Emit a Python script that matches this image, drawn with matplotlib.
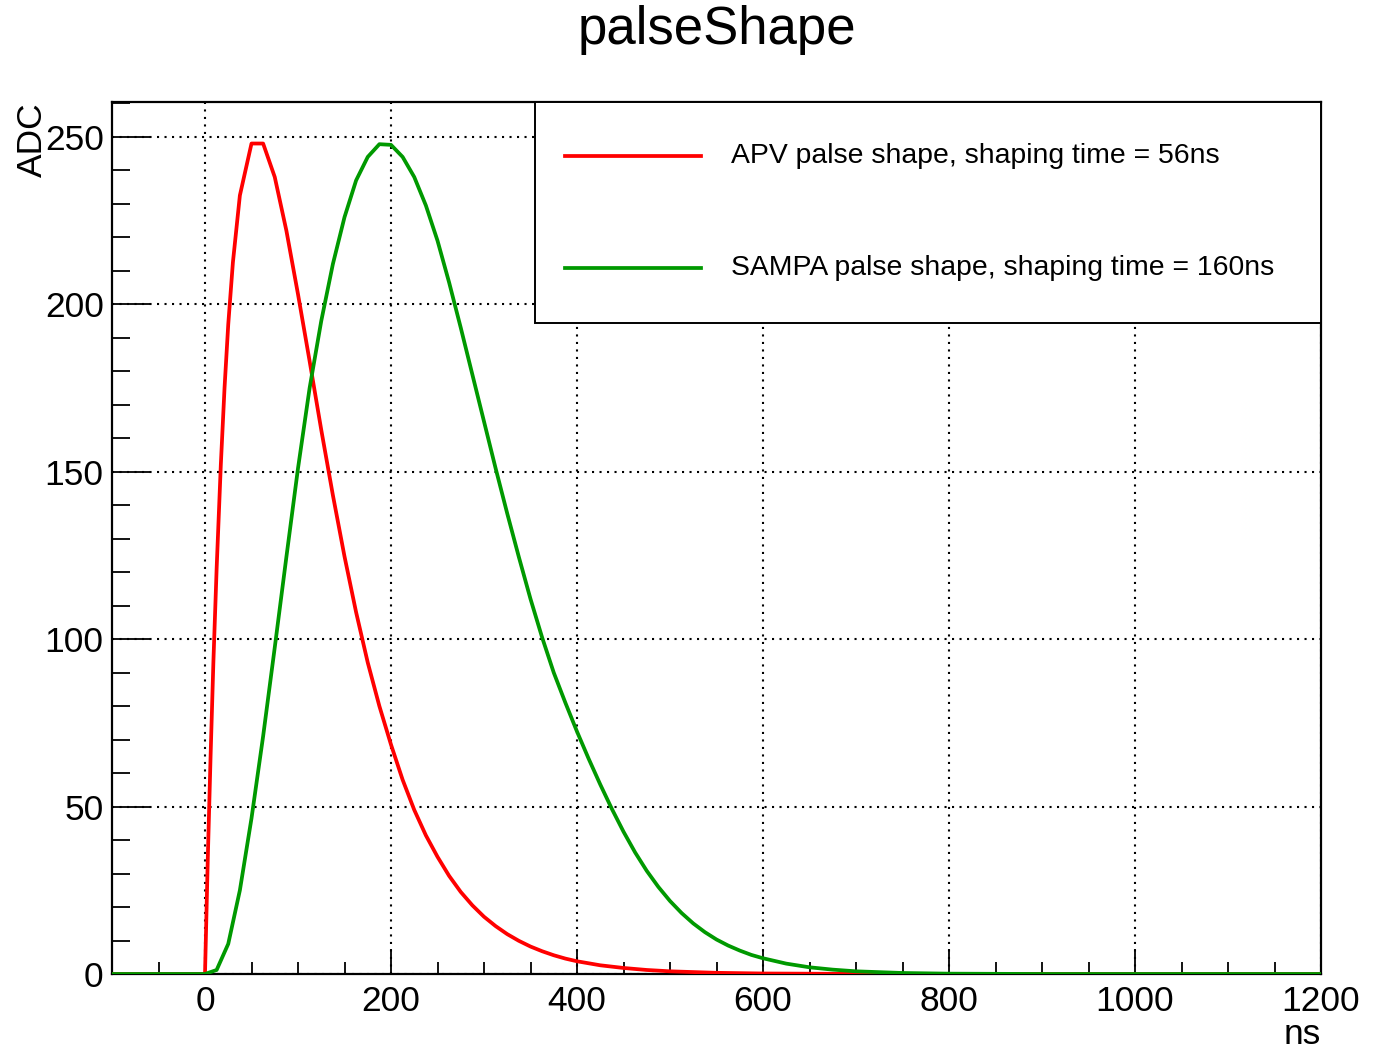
import numpy as np
import matplotlib.pyplot as plt
from matplotlib.ticker import MultipleLocator
from matplotlib.patches import Rectangle
from matplotlib.lines import Line2D

plt.rcParams['font.family'] = ['Liberation Sans', 'DejaVu Sans']

# APV pulse (red)
apv_t = [-100, -3, 0, 3, 6, 9, 12.5, 17, 21, 25, 30, 37.5, 50, 62.5, 75, 87.5, 100,
         112.5, 125, 137.5, 150, 162.5, 175, 187.5, 200, 212.5, 225, 237.5, 250,
         262.5, 275, 287.5, 300, 312.5, 325, 337.5, 350, 362.5, 375, 387.5, 400,
         425, 450, 475, 500, 550, 600, 700, 800, 1200]
apv_v = [0, 0, 0, 34.5, 65, 93, 121, 152, 175, 194, 212.5, 232.5, 248, 248, 238, 222, 203,
         183, 162.5, 143, 124.7, 108, 93, 80, 68.5, 58, 49, 41.4, 35,
         29.3, 24.5, 20.5, 17.1, 14.3, 11.9, 9.9, 8.2, 6.8, 5.6, 4.6, 3.8,
         2.6, 1.8, 1.2, 0.8, 0.35, 0.15, 0.03, 0, 0]

# SAMPA pulse (green)
sampa_t = [-100, 0, 12.5, 25, 37.5, 50, 62.5, 75, 87.5, 100, 112.5, 125, 137.5, 150,
           162.5, 175, 187.5, 200, 212.5, 225, 237.5, 250, 262.5, 275, 287.5, 300,
           312.5, 325, 337.5, 350, 362.5, 375, 387.5, 400, 412.5, 425, 437.5, 450,
           462.5, 475, 487.5, 500, 512.5, 525, 537.5, 550, 562.5, 575, 587.5, 600,
           625, 650, 675, 700, 750, 800, 900, 1200]
sampa_v = [0, 0, 1.2, 9, 25, 46.5, 71, 97.5, 124.5, 151, 175, 195, 212, 226,
           237, 244, 247.8, 247.6, 244, 238, 229.5, 219, 206.5, 193, 179, 165,
           151, 137.5, 124.5, 112, 100.5, 90, 81.0, 72.4, 64.3, 56.6, 49.3, 42.5,
           36.3, 30.8, 26.0, 21.8, 18.2, 15.1, 12.5, 10.3, 8.5, 7.0, 5.7, 4.7,
           3.1, 2.0, 1.3, 0.8, 0.3, 0.1, 0, 0]

labels = ["APV palse shape, shaping time = 56ns",
          "SAMPA palse shape, shaping time = 160ns"]
colors = ["#ff0000", "#009900"]

fig = plt.figure(figsize=(13.88, 10.49), dpi=100)
ax = fig.add_axes([112/1388, 1-974/1049, (1321-112)/1388, (974-102)/1049])

ax.plot(apv_t, apv_v, color=colors[0], lw=2.7, zorder=3)
ax.plot(sampa_t, sampa_v, color=colors[1], lw=2.7, zorder=3)

ax.set_xlim(-100, 1200)
ax.set_ylim(0, 260.4)

ax.xaxis.set_major_locator(MultipleLocator(200))
ax.xaxis.set_minor_locator(MultipleLocator(50))
ax.yaxis.set_major_locator(MultipleLocator(50))
ax.yaxis.set_minor_locator(MultipleLocator(10))

ax.grid(True, which='major', color='black', linestyle=(0, (1, 2.6)), lw=1.5)
ax.set_axisbelow(True)

ax.tick_params(axis='both', which='both', direction='in', top=False, right=False,
               labelsize=25.5, width=1.3, color='black')
ax.tick_params(axis='x', which='major', length=18, pad=8)
ax.tick_params(axis='x', which='minor', length=9)
ax.tick_params(axis='y', which='major', length=27, pad=6)
ax.tick_params(axis='y', which='minor', length=13)
for s in ax.spines.values():
    s.set_linewidth(1.6)

fig.text(716.5/1388, 1-30/1049, "palseShape", fontsize=38, ha='center', va='center')
fig.text(1321/1388, 1-1035/1049, "ns", fontsize=25.5, ha='right', va='center')
fig.text(32/1388, 1-102/1049, "ADC", fontsize=25.5, rotation=90, ha='center', va='top')

# legend box
x0 = (535-112)/(1321-112)
y0 = (974-323)/(974-102)
ax.add_patch(Rectangle((x0, y0), 1-x0, 1-y0, transform=ax.transAxes,
                       facecolor='white', edgecolor='black', lw=1.4, zorder=5,
                       clip_on=False))
for i, (lab, col) in enumerate(zip(labels, colors)):
    yy = (974-(156+112*i))/(974-102)
    ax.add_line(Line2D([(565-112)/1209, (701-112)/1209], [yy, yy], transform=ax.transAxes,
                       color=col, lw=2.7, zorder=6))
    ax.text((731-112)/1209, yy, lab, transform=ax.transAxes, fontsize=20.4,
            ha='left', va='center', zorder=6)

fig.savefig("out.png", dpi=100)
